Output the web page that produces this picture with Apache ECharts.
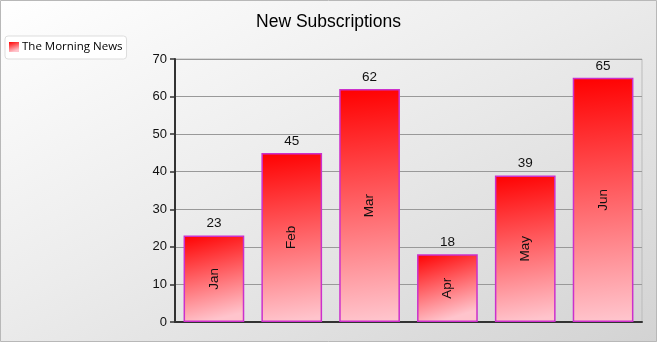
<!DOCTYPE html>
<html>
<head>
<meta charset="utf-8">
<script src="https://cdn.jsdelivr.net/npm/echarts@6/dist/echarts.min.js"></script>
<style>
  html, body { margin: 0; padding: 0; }
  #chart {
    width: 657px; height: 342px;
    background: linear-gradient(to bottom right, #ffffff 0%, #ececec 45%, #d3d3d3 100%);
  }
</style>
</head>
<body>
<div id="chart"></div>
<script>
// Monthly new subscriptions
const months = ['Jan', 'Feb', 'Mar', 'Apr', 'May', 'Jun'];
const subscriptions = [23, 45, 62, 18, 39, 65];
const seriesName = 'The Morning News';
const yTicks = { min: 0, max: 70, interval: 10 };

const chart = echarts.init(document.getElementById('chart'), null, { renderer: 'canvas' });

const barFill = new echarts.graphic.LinearGradient(0, 0, 0.35, 1, [
  { offset: 0, color: '#ff0000' },
  { offset: 1, color: '#ffc4cc' }
]);

const font = 'Liberation Sans, Arial, sans-serif';

chart.setOption({
  backgroundColor: 'transparent',
  animation: false,
  title: {
    text: 'New Subscriptions',
    left: 'center',
    top: 8,
    textStyle: { fontFamily: font, fontSize: 17.5, fontWeight: 'normal', color: '#000' }
  },
  legend: {
    data: [seriesName],
    orient: 'vertical',
    left: 5,
    top: 36,
    padding: [5, 4, 6, 4],
    icon: 'rect',
    itemWidth: 10,
    itemHeight: 10,
    itemGap: 4,
    backgroundColor: '#ffffff',
    borderColor: '#dddddd',
    borderWidth: 1,
    borderRadius: 3,
    textStyle: { fontFamily: 'Open Sans, sans-serif', fontSize: 11.5, color: '#000', padding: [0, 0, 0, -2] },
    itemStyle: { borderWidth: 0 }
  },
  graphic: [{
    type: 'rect',
    silent: true,
    shape: { x: 0.5, y: 0.5, width: 656, height: 341 },
    style: { fill: 'none', stroke: '#b8b8b8', lineWidth: 1 }
  }],
  grid: { left: 175, right: 15, top: 59, bottom: 20, containLabel: false,
          show: true, borderColor: '#bbbbbb', borderWidth: 1 },
  xAxis: {
    type: 'category',
    data: months,
    axisLine: { lineStyle: { color: '#333', width: 2 } },
    axisTick: { show: false },
    axisLabel: { show: false }
  },
  yAxis: {
    type: 'value',
    min: yTicks.min,
    max: yTicks.max,
    interval: yTicks.interval,
    axisLine: { show: true, lineStyle: { color: '#333', width: 2 } },
    axisTick: { show: true, length: 5, lineStyle: { color: '#333', width: 1.5 } },
    axisLabel: { fontFamily: font, fontSize: 13, color: '#111', margin: 8 },
    splitLine: { lineStyle: { color: '#999', width: 1.2 } }
  },
  series: [
    {
      name: seriesName,
      type: 'bar',
      data: subscriptions,
      barCategoryGap: '22%',
      itemStyle: { color: barFill, borderColor: '#cc30cc', borderWidth: 1.5 },
      label: {
        show: true,
        position: 'inside',
        rotate: 90,
        formatter: '{b}',
        fontFamily: font,
        fontSize: 13.5,
        color: '#111'
      },
      z: 2
    },
    {
      name: 'values',
      type: 'bar',
      data: subscriptions,
      barGap: '-100%',
      barCategoryGap: '22%',
      silent: true,
      itemStyle: { color: 'transparent' },
      label: {
        show: true,
        position: 'top',
        distance: 5,
        fontFamily: font,
        fontSize: 13.5,
        color: '#111'
      },
      z: 3
    }
  ]
});
</script>
</body>
</html>
